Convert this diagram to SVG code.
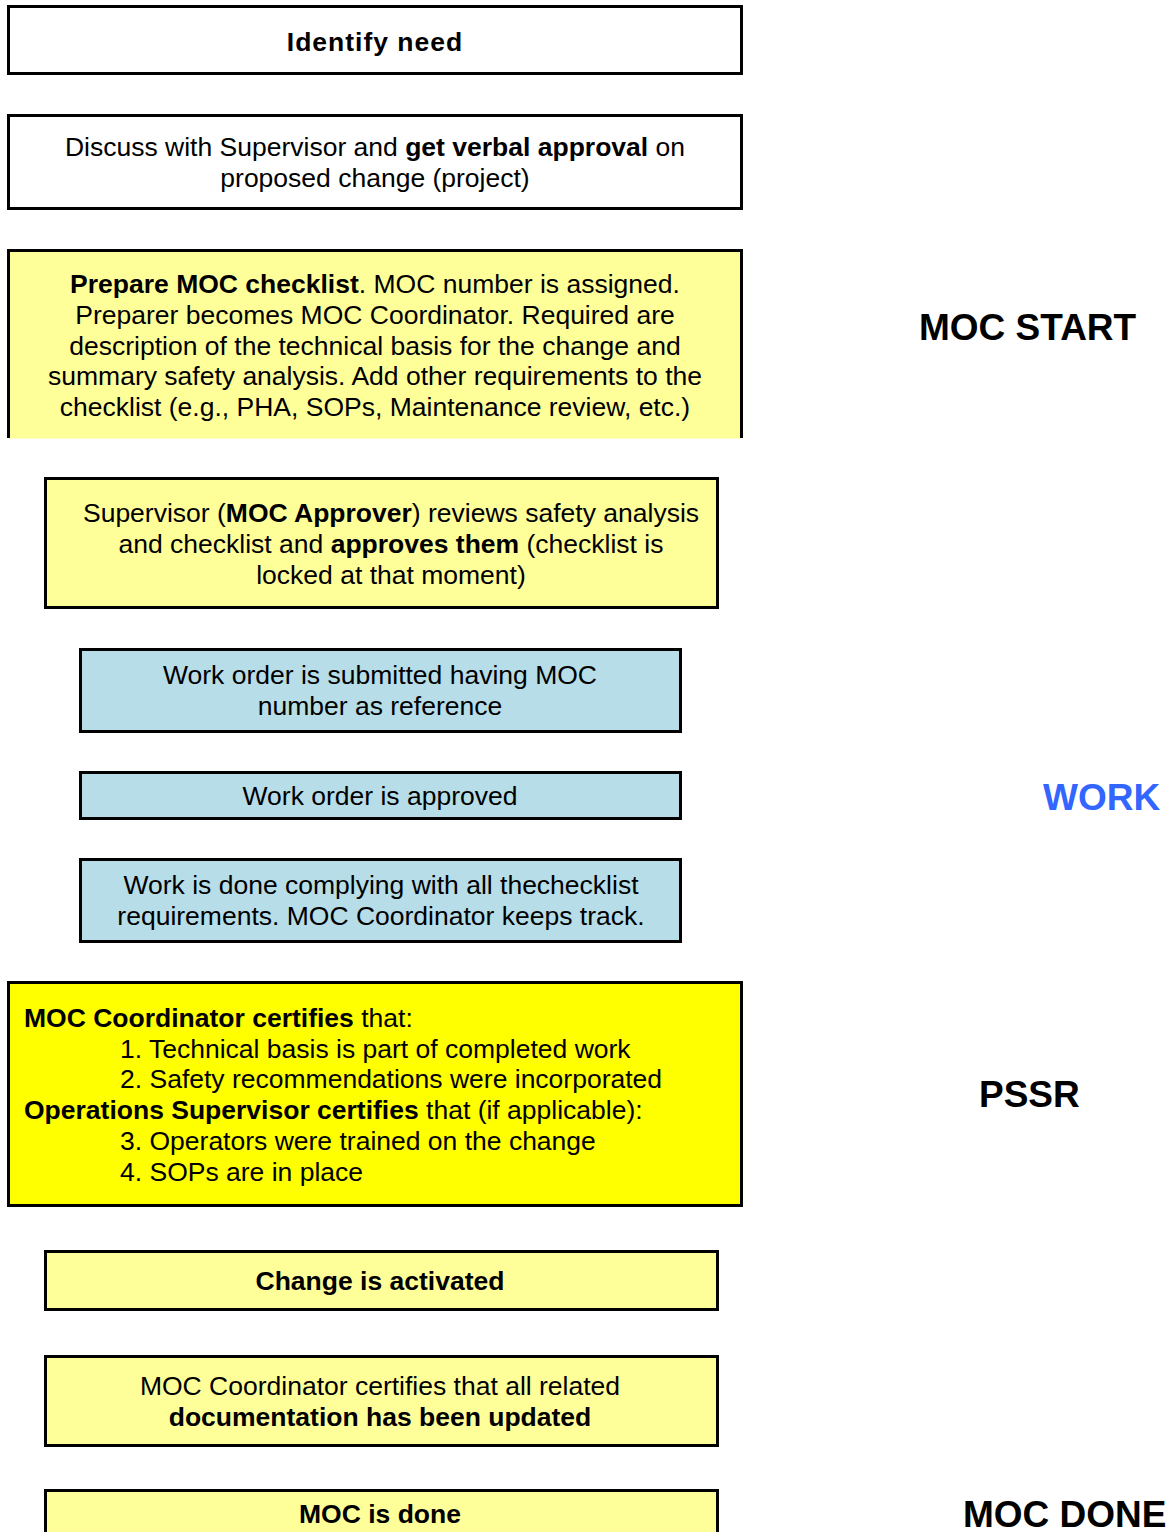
<svg xmlns="http://www.w3.org/2000/svg" width="1169" height="1532" viewBox="0 0 1169 1532">
<style>
.b{stroke:#000;stroke-width:3}
.w{fill:#fff}
.ly{fill:#FFFF99}
.lb{fill:#B7DDE8}
.y{fill:#FFFF00}
text{font-family:"Liberation Sans",Arial,sans-serif;font-size:26.5px;fill:#000}
.c{text-anchor:middle}
.bd{font-weight:bold}
.lab{font-size:37px;font-weight:bold}
</style>
<rect width="1169" height="1532" fill="#fff"/>
<g id="connectors"></g>
<g id="n1">
<rect class="b w" x="8.5" y="6.5" width="733" height="67"/>
<text class="c bd" x="375" y="51" letter-spacing="1">Identify need</text>
</g>
<g id="n2">
<rect class="b w" x="8.5" y="115.5" width="733" height="93"/>
<text class="c" x="375" y="156">Discuss with Supervisor and <tspan class="bd">get verbal approval</tspan> on</text>
<text class="c" x="375" y="187">proposed change (project)</text>
</g>
<g id="n3">
<rect class="ly" x="8.5" y="250.5" width="733" height="188"/>
<path class="b" fill="none" d="M8.5 438V250.5H741.5V438"/>
<text class="c" x="375" y="293"><tspan class="bd">Prepare MOC checklist</tspan>. MOC number is assigned.</text>
<text class="c" x="375" y="324">Preparer becomes MOC Coordinator. Required are</text>
<text class="c" x="375" y="355">description of the technical basis for the change and</text>
<text class="c" x="375" y="385">summary safety analysis. Add other requirements to the</text>
<text class="c" x="375" y="416">checklist (e.g., PHA, SOPs, Maintenance review, etc.)</text>
</g>
<g id="n4">
<rect class="b ly" x="45.5" y="478.5" width="672" height="129"/>
<text class="c" x="391" y="522">Supervisor (<tspan class="bd">MOC Approver</tspan>) reviews safety analysis</text>
<text class="c" x="391" y="553">and checklist and <tspan class="bd">approves them</tspan> (checklist is</text>
<text class="c" x="391" y="584">locked at that moment)</text>
</g>
<g id="n5">
<rect class="b lb" x="80.5" y="649.5" width="600" height="82"/>
<text class="c" x="380" y="684">Work order is submitted having MOC</text>
<text class="c" x="380" y="715">number as reference</text>
</g>
<g id="n6">
<rect class="b lb" x="80.5" y="772.5" width="600" height="46"/>
<text class="c" x="380" y="805">Work order is approved</text>
</g>
<g id="n7">
<rect class="b lb" x="80.5" y="859.5" width="600" height="82"/>
<text class="c" x="381" y="894">Work is done complying with all thechecklist</text>
<text class="c" x="381" y="925">requirements. MOC Coordinator keeps track.</text>
</g>
<g id="n8">
<rect class="b y" x="8.5" y="982.5" width="733" height="223"/>
<text x="24" y="1027"><tspan class="bd">MOC Coordinator certifies</tspan> that:</text>
<text x="120" y="1058">1. Technical basis is part of completed work</text>
<text x="120" y="1088">2. Safety recommendations were incorporated</text>
<text x="24" y="1119"><tspan class="bd">Operations Supervisor certifies</tspan> that (if applicable):</text>
<text x="120" y="1150">3. Operators were trained on the change</text>
<text x="120" y="1181">4. SOPs are in place</text>
</g>
<g id="n9">
<rect class="b ly" x="45.5" y="1251.5" width="672" height="58"/>
<text class="c bd" x="380" y="1290">Change is activated</text>
</g>
<g id="n10">
<rect class="b ly" x="45.5" y="1356.5" width="672" height="89"/>
<text class="c" x="380" y="1395">MOC Coordinator certifies that all related</text>
<text class="c bd" x="380" y="1426">documentation has been updated</text>
</g>
<g id="n11">
<rect class="b ly" x="45.5" y="1490.5" width="672" height="60"/>
<text class="c bd" x="380" y="1523">MOC is done</text>
</g>
<g id="labels">
<text class="lab" x="919" y="340">MOC START</text>
<text class="lab" x="1043" y="810" fill="#3366FF" style="fill:#3366FF">WORK</text>
<text class="lab" x="979" y="1107">PSSR</text>
<text class="lab" x="963" y="1527">MOC DONE</text>
</g>
</svg>
